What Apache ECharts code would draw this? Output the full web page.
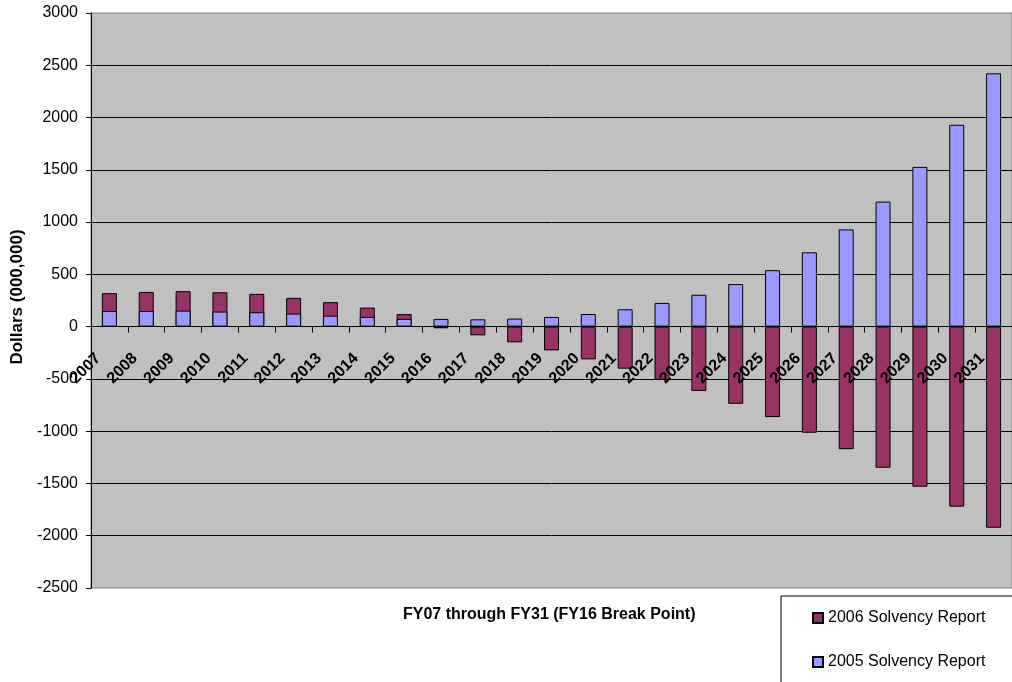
<!DOCTYPE html>
<html>
<head>
<meta charset="utf-8">
<script src="https://cdn.jsdelivr.net/npm/echarts@6/dist/echarts.min.js"></script>
<style>
  html, body { margin: 0; padding: 0; background: #fff; }
  #chart { width: 1012px; height: 682px; }
</style>
</head>
<body>
<div id="chart"></div>
<script>
// 财年
var years = ['2007', '2008', '2009', '2010', '2011', '2012', '2013', '2014', '2015', '2016',
    '2017', '2018', '2019', '2020', '2021', '2022', '2023', '2024', '2025', '2026',
    '2027', '2028', '2029', '2030', '2031'];
// 2006 报告
var report2006 = [320, 332, 339, 329, 313, 275, 234, 182, 120, -16,
    -83, -150, -227, -313, -402, -508, -615, -738, -865, -1015,
    -1172, -1350, -1531, -1722, -1924];
// 2005 报告
var report2005 = [150, 150, 153, 144, 138, 125, 105, 93, 74, 74,
    70, 77, 93, 121, 166, 227, 305, 407, 540, 711,
    930, 1196, 1528, 1931, 2423];

var yMin = -2500, yMax = 3000;
var gridTop = 13, gridHeight = 575;
// 类目轴放在0刻度处
var zeroOffset = -gridHeight * (0 - yMin) / (yMax - yMin);

var font = "'Liberation Sans', Arial, sans-serif";
var chart = echarts.init(document.getElementById('chart'));

chart.setOption({
    animation: false,
    backgroundColor: '#fff',
    textStyle: { fontFamily: font },
    graphic: [{
        type: 'text',
        left: 403,
        top: 607,
        style: {
            text: 'FY07 through FY31 (FY16 Break Point)',
            font: "bold 16px 'Liberation Sans', Arial, sans-serif",
            fill: '#000'
        }
    }],
    legend: {
        orient: 'vertical',
        left: 781,
        top: 596,
        height: 200,
        padding: [14, 40, 30, 31],
        itemGap: 28,
        itemWidth: 10,
        itemHeight: 10,
        backgroundColor: '#fff',
        borderColor: '#000',
        borderWidth: 1,
        icon: 'rect',
        textStyle: { color: '#000', fontSize: 16, fontFamily: font },
        data: ['2006 Solvency Report', '2005 Solvency Report']
    },
    grid: {
        left: 91,
        top: gridTop,
        width: 930,
        height: gridHeight,
        show: true,
        backgroundColor: '#c0c0c0',
        borderColor: '#808080',
        borderWidth: 1
    },
    xAxis: {
        type: 'category',
        data: years,
        offset: zeroOffset,
        z: 5,
        axisLine: { onZero: false, lineStyle: { color: '#000', width: 1 } },
        axisTick: { show: true, alignWithLabel: false, length: 6, lineStyle: { color: '#000' } },
        axisLabel: {
            interval: 0,
            rotate: 45,
            margin: 18,
            padding: [0, 16, 0, 0],
            color: '#000',
            fontSize: 16,
            fontWeight: 'bold',
            fontFamily: font
        },
        splitLine: { show: false }
    },
    yAxis: {
        type: 'value',
        min: yMin,
        max: yMax,
        interval: 500,
        name: 'Dollars (000,000)',
        nameLocation: 'middle',
        nameGap: 64,
        nameTextStyle: { color: '#000', fontSize: 17, fontWeight: 'bold', fontFamily: font, padding: [0, 0, 0, 7] },
        axisLine: { show: true, lineStyle: { color: '#000', width: 1 } },
        axisTick: { show: true, length: 5, lineStyle: { color: '#000' } },
        axisLabel: {
            color: '#000', fontSize: 16, margin: 13, fontFamily: font,
            formatter: function (v) { return String(v); }
        },
        splitLine: { show: true, showMinLine: false, showMaxLine: false, lineStyle: { color: '#000', width: 1 } }
    },
    series: [
        {
            name: '2006 Solvency Report',
            type: 'bar',
            data: report2006,
            barWidth: 15,
            barGap: '-100%',
            itemStyle: { color: '#993366', borderColor: '#000', borderWidth: 1 }
        },
        {
            name: '2005 Solvency Report',
            type: 'bar',
            data: report2005,
            barWidth: 15,
            barGap: '-100%',
            itemStyle: { color: '#9999ff', borderColor: '#000', borderWidth: 1 }
        }
    ]
});
</script>
</body>
</html>
